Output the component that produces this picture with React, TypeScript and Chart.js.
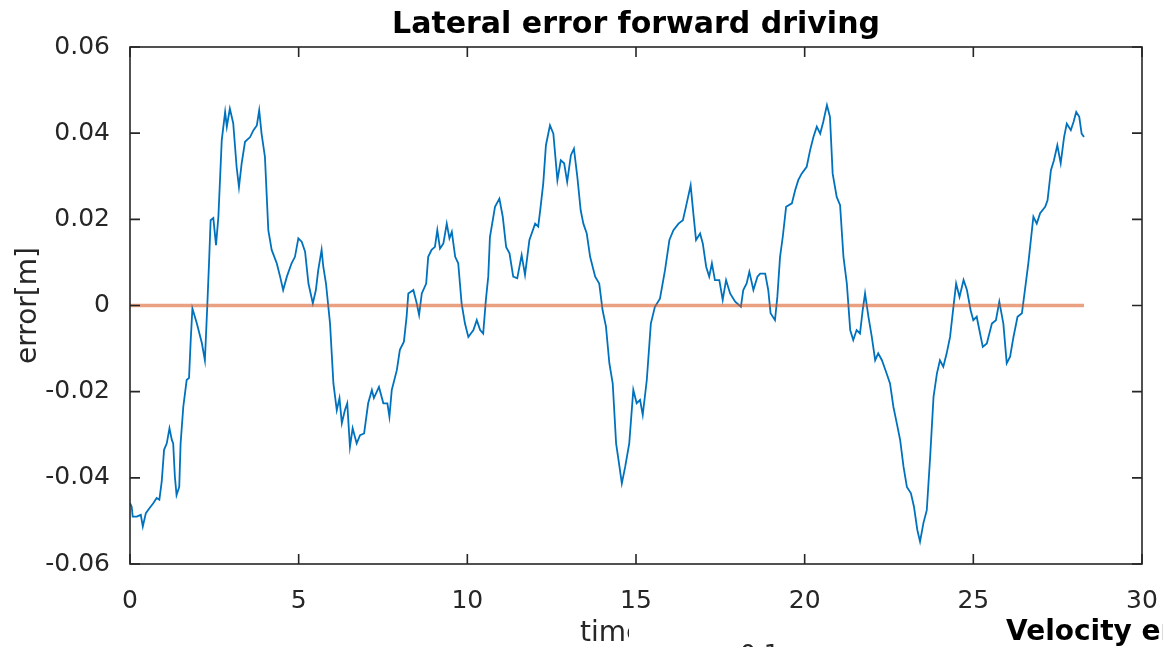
import React, { useEffect, useRef } from "react";
import { Chart, registerables } from "chart.js";

Chart.register(...registerables);

// ---- data ----
const timeS: number[] = [
  0, 0.05, 0.08, 0.2, 0.32, 0.38, 0.47, 0.57, 0.69, 0.79, 0.87, 0.94, 1.01, 1.09, 1.17, 1.24, 1.28, 1.33, 1.38, 1.46,
  1.5, 1.58, 1.68, 1.75, 1.8, 1.85, 1.98, 2.13, 2.22, 2.29, 2.35, 2.39, 2.47, 2.55, 2.62, 2.72, 2.82, 2.87, 2.96, 3.06,
  3.16, 3.23, 3.31, 3.41, 3.56, 3.66, 3.76, 3.83, 3.9, 4.0, 4.1, 4.2, 4.35, 4.45, 4.54, 4.65, 4.79, 4.89, 4.99, 5.09,
  5.19, 5.29, 5.42, 5.51, 5.58, 5.68, 5.73, 5.81, 5.93, 6.03, 6.13, 6.21, 6.28, 6.37, 6.44, 6.52, 6.6, 6.72, 6.82, 6.94,
  7.06, 7.17, 7.23, 7.38, 7.51, 7.63, 7.69, 7.76, 7.91, 8.0, 8.12, 8.2, 8.25, 8.4, 8.5, 8.57, 8.65, 8.78, 8.84, 8.94,
  9.04, 9.11, 9.19, 9.29, 9.39, 9.47, 9.54, 9.64, 9.73, 9.83, 9.93, 10.03, 10.18, 10.28, 10.38, 10.47, 10.55, 10.62, 10.67, 10.82,
  10.95, 11.05, 11.15, 11.25, 11.36, 11.48, 11.61, 11.71, 11.84, 12.01, 12.1, 12.16, 12.25, 12.33, 12.45, 12.55, 12.67, 12.77, 12.87, 12.96,
  13.07, 13.16, 13.26, 13.36, 13.44, 13.54, 13.64, 13.79, 13.91, 14.01, 14.11, 14.21, 14.31, 14.41, 14.51, 14.58, 14.68, 14.8, 14.92, 15.02,
  15.12, 15.2, 15.32, 15.44, 15.56, 15.71, 15.86, 15.99, 16.11, 16.26, 16.39, 16.48, 16.62, 16.7, 16.78, 16.9, 16.98, 17.08, 17.17, 17.25,
  17.34, 17.47, 17.57, 17.67, 17.79, 17.94, 18.11, 18.18, 18.28, 18.36, 18.48, 18.6, 18.68, 18.83, 18.92, 18.99, 19.12, 19.19, 19.27, 19.35,
  19.45, 19.62, 19.72, 19.81, 19.91, 20.06, 20.16, 20.26, 20.36, 20.46, 20.55, 20.66, 20.75, 20.83, 20.95, 21.05, 21.15, 21.25, 21.35, 21.44,
  21.54, 21.64, 21.72, 21.79, 21.89, 21.99, 22.09, 22.18, 22.29, 22.43, 22.53, 22.63, 22.73, 22.83, 22.93, 23.03, 23.15, 23.24, 23.34, 23.42,
  23.52, 23.62, 23.72, 23.82, 23.92, 24.01, 24.11, 24.21, 24.31, 24.41, 24.49, 24.59, 24.71, 24.81, 24.92, 25.0, 25.1, 25.2, 25.28, 25.4,
  25.55, 25.67, 25.77, 25.89, 25.99, 26.09, 26.19, 26.31, 26.44, 26.53, 26.63, 26.78, 26.88, 26.98, 27.13, 27.2, 27.3, 27.39, 27.49, 27.59,
  27.69, 27.77, 27.89, 27.97, 28.05, 28.14, 28.21, 28.28,
];

const errorM: number[] = [
  -0.0459, -0.0467, -0.049, -0.049, -0.0486, -0.0513, -0.0482, -0.0471, -0.0459, -0.0447, -0.0451, -0.0409, -0.0335, -0.032, -0.0285, -0.0312, -0.032, -0.0397, -0.044, -0.0421,
  -0.032, -0.0235, -0.0173, -0.0168, -0.008, -0.0007, -0.0041, -0.0087, -0.0127, -0.0003, 0.0113, 0.0198, 0.0203, 0.014, 0.0206, 0.0384, 0.0449, 0.0415, 0.0457, 0.0423,
  0.0322, 0.0275, 0.033, 0.038, 0.0391, 0.0407, 0.0418, 0.0453, 0.0399, 0.0345, 0.0175, 0.0129, 0.0098, 0.0067, 0.0036, 0.0067, 0.0098, 0.0113, 0.0156, 0.0148,
  0.0125, 0.0051, 0.0005, 0.0036, 0.0082, 0.0129, 0.009, 0.0051, -0.0042, -0.0181, -0.0243, -0.0215, -0.0273, -0.0243, -0.0227, -0.0328, -0.0285, -0.032, -0.0301, -0.0297,
  -0.0227, -0.0196, -0.0215, -0.0189, -0.0227, -0.0227, -0.0258, -0.0196, -0.015, -0.0103, -0.0084, -0.0026, 0.0028, 0.0036, 0.0005, -0.0022, 0.0028, 0.0051, 0.0113, 0.0129,
  0.0136, 0.0175, 0.0132, 0.0144, 0.019, 0.0156, 0.0171, 0.0113, 0.0098, 0.0005, -0.0042, -0.0073, -0.0057, -0.0034, -0.0057, -0.0065, 0.0013, 0.0067, 0.0159, 0.0229,
  0.0248, 0.0206, 0.0136, 0.0121, 0.0067, 0.0063, 0.0117, 0.0071, 0.0152, 0.019, 0.0183, 0.0221, 0.0283, 0.0372, 0.0418, 0.0399, 0.0291, 0.0337, 0.033, 0.0287,
  0.0349, 0.0364, 0.0299, 0.0221, 0.019, 0.0167, 0.0113, 0.0067, 0.0051, -0.0011, -0.0049, -0.0134, -0.0181, -0.032, -0.0374, -0.0413, -0.0374, -0.032, -0.0196, -0.0227,
  -0.0219, -0.0254, -0.0173, -0.0042, -0.0003, 0.0016, 0.0082, 0.0152, 0.0175, 0.019, 0.0198, 0.0229, 0.0279, 0.0214, 0.0152, 0.0167, 0.0144, 0.009, 0.0067, 0.0098,
  0.0059, 0.0059, 0.0013, 0.0059, 0.0028, 0.0009, -0.0003, 0.0036, 0.0051, 0.0078, 0.0036, 0.0067, 0.0074, 0.0074, 0.0036, -0.0018, -0.0034, 0.002, 0.0113, 0.0159,
  0.0229, 0.0237, 0.0268, 0.0291, 0.0306, 0.0322, 0.036, 0.0391, 0.0415, 0.0399, 0.0426, 0.0465, 0.0438, 0.0306, 0.0252, 0.0233, 0.0113, 0.0051, -0.0057, -0.008,
  -0.0057, -0.0065, -0.0011, 0.0028, -0.0026, -0.0073, -0.0127, -0.0111, -0.0127, -0.0158, -0.0181, -0.0235, -0.0273, -0.0312, -0.0374, -0.0421, -0.0436, -0.0467, -0.0521, -0.0548,
  -0.0505, -0.0475, -0.0351, -0.0212, -0.0158, -0.0127, -0.0142, -0.0111, -0.0073, -0.0003, 0.0051, 0.002, 0.0059, 0.0036, -0.0011, -0.0034, -0.0026, -0.0065, -0.0096, -0.0088,
  -0.0042, -0.0034, 0.0009, -0.0042, -0.0134, -0.0119, -0.0073, -0.0026, -0.0018, 0.0036, 0.0098, 0.0206, 0.019, 0.0214, 0.0229, 0.0244, 0.0314, 0.0337, 0.0372, 0.033,
  0.0391, 0.0422, 0.0407, 0.0426, 0.0449, 0.0438, 0.0399, 0.0391,
];

const refTimeS: number[] = [0, 28.28];
const refErrorM: number[] = [0, 0];

const xTickValues: number[] = [0, 5, 10, 15, 20, 25, 30];
const yTickValues: number[] = [-0.06, -0.04, -0.02, 0, 0.02, 0.04, 0.06];

const TITLE = "Lateral error forward driving";
const X_LABEL = "time[s]";
const Y_LABEL = "error[m]";
const NEXT_PLOT_TITLE = "Velocity error";
const NEXT_PLOT_TICK = "0.1";

const FONT = '"DejaVu Sans", sans-serif';
const AXIS_COLOR = "#262626";

const matlabFrame = {
  id: "matlabFrame",
  afterDraw(chart: any) {
    const { ctx, chartArea, scales } = chart;
    const { left, right, top, bottom } = chartArea;
    const xs = scales.x;
    const ys = scales.y;
    const tickLen = 10;
    ctx.save();
    ctx.strokeStyle = AXIS_COLOR;
    ctx.lineWidth = 1.6;
    ctx.strokeRect(left, top, right - left, bottom - top);
    ctx.beginPath();
    xTickValues.forEach((v) => {
      const px = xs.getPixelForValue(v);
      ctx.moveTo(px, bottom);
      ctx.lineTo(px, bottom - tickLen);
      ctx.moveTo(px, top);
      ctx.lineTo(px, top + tickLen);
    });
    yTickValues.forEach((v) => {
      const py = ys.getPixelForValue(v);
      ctx.moveTo(left, py);
      ctx.lineTo(left + tickLen, py);
      ctx.moveTo(right, py);
      ctx.lineTo(right - tickLen, py);
    });
    ctx.stroke();

    // title
    ctx.fillStyle = "#000";
    ctx.font = `bold 30px ${FONT}`;
    ctx.textAlign = "center";
    ctx.textBaseline = "alphabetic";
    ctx.fillText(TITLE, (left + right) / 2, 33);

    // y label
    ctx.save();
    ctx.fillStyle = AXIS_COLOR;
    ctx.font = `28px ${FONT}`;
    ctx.translate(36, (top + bottom) / 2);
    ctx.rotate(-Math.PI / 2);
    ctx.textAlign = "center";
    ctx.fillText(Y_LABEL, 0, 0);
    ctx.restore();

    // x label, partly hidden by the overlapping figure
    ctx.save();
    ctx.beginPath();
    ctx.rect(0, 0, 629, chart.height);
    ctx.clip();
    ctx.fillStyle = AXIS_COLOR;
    ctx.font = `28px ${FONT}`;
    ctx.textAlign = "left";
    ctx.fillText(X_LABEL, 580, 641);
    ctx.restore();

    // pieces of the next figure
    ctx.fillStyle = AXIS_COLOR;
    ctx.font = `25px ${FONT}`;
    ctx.textAlign = "left";
    ctx.fillText(NEXT_PLOT_TICK, 740, 662);
    ctx.fillStyle = "#000";
    ctx.font = `bold 28px ${FONT}`;
    ctx.fillText(NEXT_PLOT_TITLE, 1006, 640);
    ctx.restore();
  },
};

export default function App() {
  const canvasRef = useRef<HTMLCanvasElement | null>(null);

  useEffect(() => {
    document.body.style.margin = "0";
    const canvas = canvasRef.current;
    if (!canvas) return;
    const chart = new Chart(canvas, {
      type: "line",
      data: {
        datasets: [
          {
            label: "error",
            data: timeS.map((t, i) => ({ x: t, y: errorM[i] })),
            borderColor: "#0072BD",
            borderWidth: 1.8,
            pointRadius: 0,
            tension: 0,
            fill: false,
            order: 1,
          },
          {
            label: "reference",
            data: refTimeS.map((t, i) => ({ x: t, y: refErrorM[i] })),
            borderColor: "rgba(217,83,25,0.55)",
            borderWidth: 3.5,
            pointRadius: 0,
            tension: 0,
            fill: false,
            order: 0,
          },
        ],
      },
      options: {
        animation: false,
        responsive: false,
        maintainAspectRatio: false,
        layout: { padding: { top: 47, right: 21, bottom: 0, left: 0 } },
        plugins: {
          legend: { display: false },
          tooltip: { enabled: false },
          title: { display: false },
        },
        scales: {
          x: {
            type: "linear",
            min: 0,
            max: 30,
            grid: { display: false },
            border: { display: false },
            afterBuildTicks: (s: any) => {
              s.ticks = xTickValues.map((v) => ({ value: v }));
            },
            afterFit: (s: any) => {
              s.height = 83;
              s.paddingLeft = 0;
              s.paddingRight = 0;
            },
            ticks: {
              autoSkip: false,
              maxRotation: 0,
              padding: 14,
              color: AXIS_COLOR,
              font: { family: FONT, size: 25 },
              callback: (v: any) => String(v),
            },
          },
          y: {
            type: "linear",
            min: -0.06,
            max: 0.06,
            grid: { display: false },
            border: { display: false },
            afterBuildTicks: (s: any) => {
              s.ticks = yTickValues.map((v) => ({ value: v }));
            },
            afterFit: (s: any) => {
              s.width = 130;
              s.paddingTop = 0;
              s.paddingBottom = 0;
            },
            ticks: {
              autoSkip: false,
              padding: 12,
              color: AXIS_COLOR,
              font: { family: FONT, size: 25 },
              callback: (v: any) => (Math.abs(v) < 1e-9 ? "0" : Number(v).toFixed(2)),
            },
          },
        },
      },
      plugins: [matlabFrame],
    });
    return () => chart.destroy();
  }, []);

  return (
    <div style={{ width: 1163, height: 647, background: "#fff" }}>
      <canvas ref={canvasRef} width={1163} height={647} style={{ display: "block" }} />
    </div>
  );
}
